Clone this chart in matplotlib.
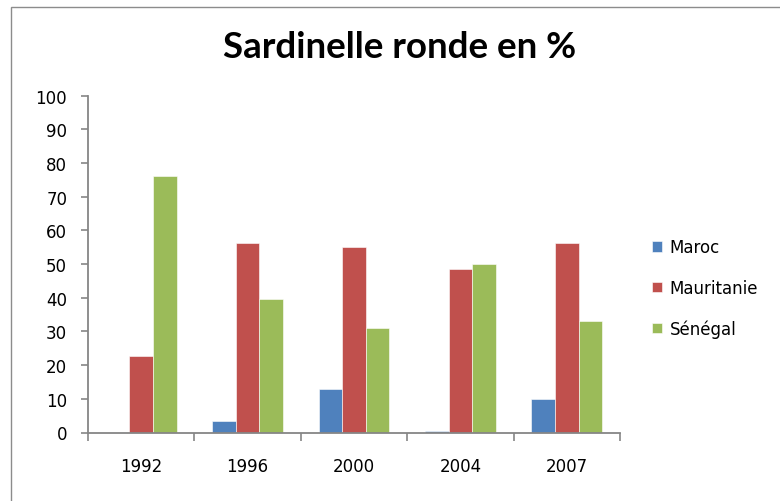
import matplotlib
matplotlib.use("Agg")
import matplotlib.pyplot as plt
import numpy as np
from matplotlib.patches import Rectangle

years = ["1992", "1996", "2000", "2004", "2007"]
maroc = [0, 3.5, 12.9, 0.5, 9.9]
mauritanie = [22.8, 56.2, 55.2, 48.6, 56.2]
senegal = [76.3, 39.7, 31.1, 49.9, 33.1]
series_names = ["Maroc", "Mauritanie", "Sénégal"]
colors = ["#4F81BD", "#C0504D", "#9BBB59"]

W, H = 780, 502
fig = plt.figure(figsize=(W / 100, H / 100), dpi=100)
fig.patch.set_facecolor("white")

# outer chart frame
fig.patches.append(Rectangle((11 / W, -0.2), 1.2, 0.2 + (H - 8) / H,
                             transform=fig.transFigure, fill=False,
                             edgecolor="#8c8c8c", linewidth=1.0))

ax = fig.add_axes([88 / W, 1 - 433.5 / H, (620 - 88) / W, (433.5 - 96.7) / H])

x = np.arange(len(years))
bw = 1 / 4.5
data = [maroc, mauritanie, senegal]
for i, (vals, name, c) in enumerate(zip(data, series_names, colors)):
    ax.bar(x + (i - 1) * bw, vals, width=bw, color=c, label=name,
           edgecolor="white", linewidth=0.4)

ax.set_xlim(-0.5, len(years) - 0.5)
ax.set_ylim(0, 100)
ax.set_yticks(np.arange(0, 101, 10))

for s in ["top", "right"]:
    ax.spines[s].set_visible(False)
for s in ["left", "bottom"]:
    ax.spines[s].set_color("#868686")
    ax.spines[s].set_linewidth(1.3)

ax.tick_params(axis="y", direction="out", length=5, width=1.2, color="#868686",
               pad=10, labelsize=12, labelcolor="black")
ax.set_xticks(x)
ax.set_xticklabels(years)
ax.set_xticks(np.arange(-0.5, len(years)), minor=True)
ax.tick_params(axis="x", which="major", length=0, pad=18, labelsize=12,
               labelcolor="black")
ax.tick_params(axis="x", which="minor", direction="out", length=6, width=1.2,
               color="#868686")

fig.text(400 / W, 1 - 48 / H, "Sardinelle ronde en %", ha="center", va="center",
         fontsize=26.5, fontweight="bold", family="Lato")

leg = fig.legend(loc="center left", bbox_to_anchor=(652 / W, 1 - 289 / H),
                 frameon=False, fontsize=12, handlelength=0.6, handleheight=0.6,
                 handletextpad=0.45, labelspacing=1.35, borderpad=0,
                 borderaxespad=0)

fig.savefig("out.png", dpi=100, facecolor="white")
